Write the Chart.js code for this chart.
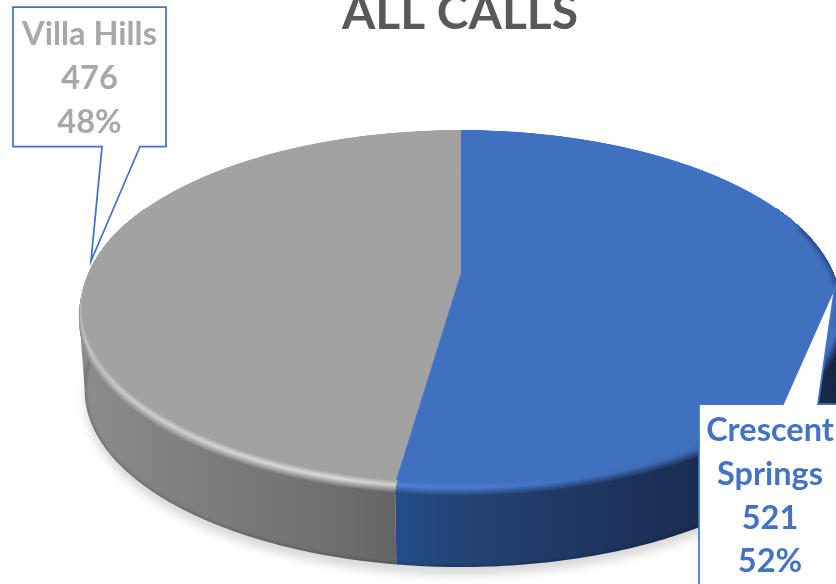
<!DOCTYPE html>
<html><head><meta charset="utf-8">
<style>html,body{margin:0;padding:0;background:#fff}#wrap{position:relative;width:836px;height:584px;overflow:hidden}</style>
<script src="https://cdn.jsdelivr.net/npm/chart.js@4/dist/chart.umd.min.js"></script>
</head><body><div id="wrap"><canvas id="c" width="836" height="584"></canvas></div>
<script>
const chartTitle = 'ALL CALLS';
const categories = ['Crescent Springs', 'Villa Hills'];
const calls = [521, 476];
const sliceColors = ['#4070c0', '#a2a2a2'];
const labelColors = ['#4472c4', '#a8a8a8'];
const labelLines = [['Crescent', 'Springs'], ['Villa Hills']];

// perspective view of the pie's top face
const view = {cx: 461, c: -0.1955, A: 116.6, B: 272, R: 372, depth: 84, bottomScale: 0.992};
const SS = 2, OFF_W = 1000, OFF_H = 800, SRC_R = 280;
const callouts = [
  {box: [699, 404, 150, 200], base: [783, 818], tip: [835, 287], textX: 770, textY: 431},
  {box: [13, 7, 153, 139.5], base: [102, 140], tip: [91, 261], textX: 89.5, textY: 35}
];
const LINE_H = 43.6;
// shading along x: [x, wall colour, bevel highlight colour]
const greyShade = [[70, [142,142,142], [190,190,190]], [140, [133,133,133], [207,207,207]], [250, [120,120,120], [214,214,214]], [340, [110,110,110], [220,220,220]], [397, [100,100,100], [208,208,208]]];
const blueShade = [[397, [35,76,136], [79,128,214]], [480, [35,66,114], [74,123,208]], [580, [31,55,99], [64,112,192]], [700, [26,44,80], [58,102,176]], [836, [24,41,72], [45,82,149]]];

function project(a, s, plane) {
  const u = Math.cos(a) * s, v = Math.sin(a) * s;
  const k = 1 / (1 + view.c * v);
  const sx = plane ? view.bottomScale : 1;
  return [view.cx + view.R * u * k * sx, (view.A * v + view.B) * k + (plane ? view.depth : 0)];
}
function trace(ctx, a0, a1, s, plane, first) {
  const n = Math.max(2, Math.ceil(Math.abs(a1 - a0) * 80));
  for (let i = 0; i <= n; i++) {
    const p = project(a0 + (a1 - a0) * i / n, s, plane);
    if (i === 0 && first) ctx.moveTo(p[0], p[1]); else ctx.lineTo(p[0], p[1]);
  }
}
function bevelTrace(ctx, a0, a1, d) {
  const n = Math.ceil(Math.abs(a1 - a0) * 80);
  for (let i = 0; i <= n; i++) {
    const a = a0 + (a1 - a0) * i / n;
    const f = Math.max(0, Math.min(1, Math.sin(a) * 1.6 + 0.35));
    const p = project(a, 1 + 0.00095 * d * f, 0);
    ctx.lineTo(p[0], p[1] + d * f);
  }
}
function mix(a, b, t) {
  return 'rgb(' + a.map((x, i) => Math.round(x + (b[i] - x) * t)).join(',') + ')';
}
function shadeGradient(ctx, stops, pick) {
  const g = ctx.createLinearGradient(70, 0, 836, 0);
  stops.forEach(st => g.addColorStop((st[0] - 70) / 766, pick(st)));
  return g;
}
function rimStroke(ctx, a0, a1, s, width, color, blur) {
  ctx.save();
  ctx.filter = 'blur(' + blur + 'px)';
  ctx.strokeStyle = color; ctx.lineWidth = width; ctx.lineCap = 'butt';
  ctx.beginPath(); trace(ctx, a0, a1, s, 0, true); ctx.stroke();
  ctx.restore();
}

const off = document.createElement('canvas');
off.width = OFF_W * SS; off.height = OFF_H * SS;
const offCtx = off.getContext('2d');

const perspectivePie = {
  id: 'perspectivePie',
  beforeDatasetsDraw(chart) {
    const ctx = chart.ctx;
    const arcs = chart.getDatasetMeta(0).data;
    offCtx.setTransform(1, 0, 0, 1, 0, 0);
    offCtx.clearRect(0, 0, off.width, off.height);
    offCtx.setTransform(SS, 0, 0, SS, 0, 0);
    arcs.forEach(a => a.draw(offCtx, chart.chartArea));

    const el = arcs[0];
    const boundary = el.endAngle;         // blue / grey edge, from the data
    const twoPi = Math.PI * 2;
    const widest = Math.asin(-view.c);    // where the rim's silhouette is widest

    // soft ground shadow
    ctx.save();
    ctx.filter = 'blur(5px)';
    ctx.fillStyle = 'rgba(0,0,0,0.15)';
    ctx.beginPath();
    const n = 240;
    for (let i = 0; i <= n; i++) {
      const p = project(i / n * twoPi, 1, 1);
      const x = p[0], y = p[1] + 8;
      i ? ctx.lineTo(x, y) : ctx.moveTo(x, y);
    }
    ctx.closePath(); ctx.fill();
    ctx.restore();

    // extruded side wall, one piece per slice
    const walls = [
      {a0: widest, a1: boundary, shade: blueShade, face: [64,112,192], b0: -0.42, b1: boundary},
      {a0: boundary, a1: Math.PI - widest, shade: greyShade, face: [162,162,162], b0: boundary, b1: Math.PI + 0.42}
    ];
    walls.forEach(w => {
      ctx.fillStyle = shadeGradient(ctx, w.shade, st => mix(st[1], st[1], 0));
      ctx.beginPath();
      trace(ctx, w.a0, w.a1, 1.008, 0, true);
      trace(ctx, w.a1, w.a0, 1, 1, false);
      ctx.closePath(); ctx.fill();
    });
    // dark lower lip of the wall
    ctx.save();
    ctx.beginPath();
    trace(ctx, widest, Math.PI - widest, 1.008, 0, true);
    trace(ctx, Math.PI - widest, widest, 1, 1, false);
    ctx.closePath(); ctx.clip();
    ctx.filter = 'blur(1.5px)';
    ctx.strokeStyle = 'rgba(0,0,0,0.2)'; ctx.lineWidth = 3;
    ctx.beginPath(); trace(ctx, 0, Math.PI, 1, 1, true); ctx.stroke();
    ctx.restore();

    // bevel between the wall and the flat face, painted from its outer edge inward
    walls.forEach(w => {
      for (let d = 11; d >= 0.25; d -= 0.5) {
        ctx.fillStyle = shadeGradient(ctx, w.shade, st => {
          if (d <= 4) return mix(w.face, st[2], d / 4);
          return mix(st[2], st[1], Math.min(1, (d - 4) / 6.5));
        });
        ctx.beginPath();
        const p0 = project(w.b0, 0.93, 0);
        ctx.moveTo(p0[0], p0[1]);
        bevelTrace(ctx, w.b0, w.b1, d);
        trace(ctx, w.b1, w.b0, 0.93, 0, false);
        ctx.closePath(); ctx.fill();
      }
    });

    // top face: library-drawn pie, warped row by row into perspective
    const cxs = el.x, cys = el.y, r = el.outerRadius;
    const rowToV = y => (y - view.B) / (view.A - view.c * y);
    const top = Math.floor((view.B - view.A) / (1 - view.c)) - 1;
    const bottom = Math.ceil((view.B + view.A) / (1 + view.c)) + 1;
    ctx.save();
    ctx.imageSmoothingEnabled = true;
    ctx.imageSmoothingQuality = 'high';
    for (let y = top; y <= bottom; y++) {
      const v0 = rowToV(y), v1 = rowToV(y + 1), v = (v0 + v1) / 2;
      const k = 1 / (1 + view.c * v);
      const scale = view.R / r * k;
      ctx.drawImage(off, 0, (cys + r * v0) * SS, off.width, (v1 - v0) * r * SS,
        view.cx - cxs * scale, y, OFF_W * scale, 1);
    }
    ctx.restore();

    // dark fall-off at the far right of the rim
    ctx.save();
    ctx.beginPath(); trace(ctx, 0, twoPi, 1, 0, true); ctx.closePath(); ctx.clip();
    rimStroke(ctx, 0.3, -0.28, 1, 5, 'rgba(20,40,85,0.6)', 2);
    ctx.restore();

    // callouts
    callouts.forEach((c, idx) => {
      const [x, y, w, h] = c.box;
      const bottomSide = c.tip[1] > y + h;
      ctx.save();
      ctx.fillStyle = '#fff'; ctx.strokeStyle = '#4472c4'; ctx.lineWidth = 1.75; ctx.lineJoin = 'miter';
      ctx.beginPath();
      ctx.moveTo(x, y);
      if (!bottomSide) { ctx.lineTo(c.base[0], y); ctx.lineTo(c.tip[0], c.tip[1]); ctx.lineTo(c.base[1], y); }
      ctx.lineTo(x + w, y); ctx.lineTo(x + w, y + h);
      if (bottomSide) { ctx.lineTo(c.base[1], y + h); ctx.lineTo(c.tip[0], c.tip[1]); ctx.lineTo(c.base[0], y + h); }
      ctx.lineTo(x, y + h); ctx.closePath(); ctx.fill(); ctx.stroke();
      ctx.restore();
      const total = calls.reduce((s, d) => s + d, 0);
      const lines = labelLines[idx].concat([String(calls[idx]), Math.round(calls[idx] / total * 100) + '%']);
      ctx.save();
      ctx.font = 'bold 32.5px Lato';
      ctx.fillStyle = labelColors[idx];
      ctx.textAlign = 'center'; ctx.textBaseline = 'middle';
      lines.forEach((t, i) => ctx.fillText(t, c.textX, c.textY + i * LINE_H));
      ctx.restore();
    });
    return false;   // the pie has been painted above; skip the flat default paint
  }
};

Chart.defaults.animation = false;
new Chart(document.getElementById('c'), {
  type: 'pie',
  data: {labels: categories, datasets: [{data: calls, backgroundColor: sliceColors, borderWidth: 0, radius: SRC_R, clip: false}]},
  plugins: [perspectivePie],
  options: {
    responsive: false, animation: false,
    layout: {padding: {left: 84, top: 0, right: 0, bottom: 0}},
    plugins: {
      legend: {display: false}, tooltip: {enabled: false},
      title: {display: true, text: chartTitle, color: '#595959', font: {family: 'Lato', size: 48, weight: 'bold'}, padding: {top: -15, bottom: 0}}
    }
  }
});
</script></body></html>
